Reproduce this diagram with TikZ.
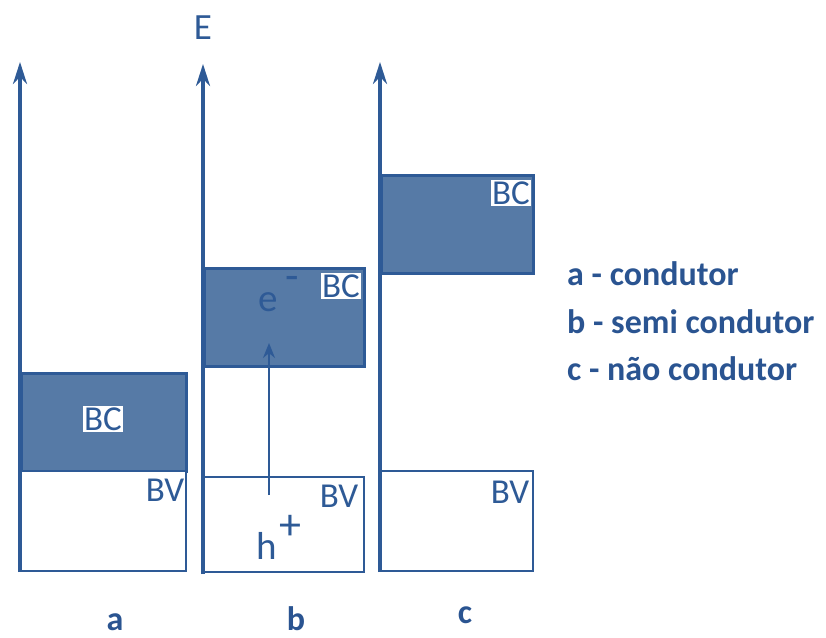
\documentclass[tikz,border=0pt]{standalone}
\usepackage{fontspec}
\setmainfont{Carlito}
\usetikzlibrary{arrows.meta}
\definecolor{bandblue}{RGB}{86,122,166}
\definecolor{lineblue}{RGB}{46,90,150}
\definecolor{textblue}{RGB}{42,84,145}
\begin{document}
\begin{tikzpicture}[x=1pt,y=-1pt,
  band/.style={rectangle, draw=lineblue, line width=2.5pt, fill=bandblue,
    inner sep=0pt, anchor=north west},
  emptyband/.style={band, fill=white, line width=2pt},
  axis/.style={draw=lineblue, line width=3.5pt, -{Stealth[length=22pt,width=14pt]}},
  jump/.style={draw=lineblue, line width=2pt, -{Stealth[length=15pt,width=12pt]}},
  tag/.style={fill=white, text=lineblue, inner sep=1.5pt,
    font=\fontsize{35}{37}\selectfont},
  bvtag/.style={text=lineblue, inner sep=0pt, font=\fontsize{35}{37}\selectfont},
  carrier/.style={text=lineblue, inner sep=0pt, font=\fontsize{39}{41}\selectfont},
  charge/.style={text=lineblue, inner sep=0pt, font=\fontsize{44}{46}\selectfont},
  legend/.style={text=textblue, anchor=base west, inner sep=0pt,
    font=\bfseries\fontsize{34}{38}\selectfont},
  panel/.style={text=textblue, anchor=base, inner sep=0pt,
    font=\bfseries\fontsize{34}{38}\selectfont}]
\useasboundingbox (0,0) rectangle (826,637);

% panel a: conductor
\node[band, minimum width=165pt, minimum height=98pt] (aBC) at (20,372) {};
\node[emptyband, minimum width=165pt, minimum height=100pt] (aBV) at (20,470) {};
% panel b: semiconductor
\node[band, minimum width=160pt, minimum height=98pt] (bBC) at (203,267) {};
\node[emptyband, minimum width=160pt, minimum height=95pt] (bBV) at (203,476) {};
% panel c: insulator
\node[band, minimum width=152pt, minimum height=98pt] (cBC) at (380,174) {};
\node[emptyband, minimum width=152pt, minimum height=100pt] (cBV) at (380,470) {};

% energy axes
\coordinate (aLow) at (20,572);  \coordinate (aTop) at (20,62);
\coordinate (bLow) at (203,574); \coordinate (bTop) at (203,64);
\coordinate (cLow) at (380,572); \coordinate (cTop) at (380,62);
\draw[axis] (aLow) -- (aTop);
\draw[axis] (bLow) -- (bTop);
\draw[axis] (cLow) -- (cTop);
\node[text=lineblue, font=\fontsize{37}{39}\selectfont] (E) at (203,28) {E};

% band labels
\node[tag] (aBCt) at (103,419) {BC};
\node[tag] (bBCt) at (341,286) {BC};
\node[tag] (cBCt) at (511,193) {BC};
\node[bvtag] (aBVt) at (165,490) {BV};
\node[bvtag] (bBVt) at (339,496) {BV};
\node[bvtag] (cBVt) at (510,492) {BV};

% electron excitation across the gap
\node[carrier] (e) at (268,302) {e};
\node[charge] (em) at (292,283) {-};
\node[carrier] (h) at (267,546) {h};
\node[charge] (hp) at (290,527) {+};
\coordinate (jumpLow) at (269,495);
\coordinate (jumpTop) at (269,343);
\draw[jump] (jumpLow) -- (jumpTop);

% legend
\node[legend] (la) at (567,285) {a - condutor};
\node[legend] (lb) at (567,333) {b - semi condutor};
\node[legend] (lc) at (567,380) {c - não condutor};

% panel names
\node[panel] (pa) at (115,630) {a};
\node[panel] (pb) at (296,630) {b};
\node[panel] (pc) at (465,623) {c};
\end{tikzpicture}
\end{document}
